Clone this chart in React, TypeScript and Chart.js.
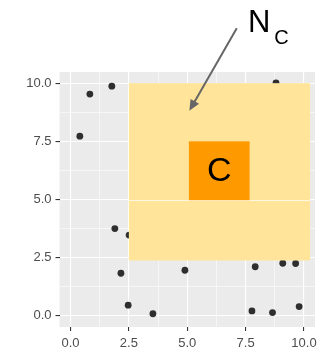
import React, { useEffect, useRef } from "react";
import { Chart, registerables } from "chart.js";

Chart.register(...registerables);

// Scatter points
const pointX = [0.40, 0.83, 1.77, 1.90, 2.51, 2.16, 2.47, 3.53, 4.90, 7.91, 9.09, 9.64, 7.77, 8.65, 9.79, 8.80];
const pointY = [7.72, 9.53, 9.87, 3.75, 3.47, 1.83, 0.46, 0.09, 1.96, 2.11, 2.26, 2.25, 0.21, 0.14, 0.40, 10.01];

// Axis ticks
const majorTicks = [0, 2.5, 5, 7.5, 10];
const minorTicks = [1.25, 3.75, 6.25, 8.75];
const xRange = [-0.47, 10.47];
const yRange = [-0.48, 10.48];

// Annotations (data coordinates)
const outerBoxX = [2.5, 10.26];
const outerBoxY = [2.38, 10.0];
const innerBoxX = [5.07, 7.67];
const innerBoxY = [4.97, 7.5];
const innerLabel = "C";
const arrowFrom = [7.12, 12.36];
const arrowTo = [5.09, 8.81];
const calloutMain = "N";
const calloutSub = "C";
const calloutPos = [7.6, 12.22];

const allTicks = [...majorTicks, ...minorTicks].sort((a, b) => a - b);
const isMajor = (v: number) => majorTicks.some((m) => Math.abs(m - v) < 1e-6);

const bgPlugin = {
  id: "panelBg",
  beforeDraw(chart: any) {
    const { ctx, chartArea } = chart;
    ctx.save();
    ctx.fillStyle = "#EBEBEB";
    ctx.fillRect(chartArea.left, chartArea.top, chartArea.right - chartArea.left, chartArea.bottom - chartArea.top);
    ctx.restore();
  },
};

const annotPlugin = {
  id: "annot",
  afterDatasetsDraw(chart: any) {
    const { ctx } = chart;
    const xs = chart.scales.x;
    const ys = chart.scales.y;
    const X = (v: number) => xs.getPixelForValue(v);
    const Y = (v: number) => ys.getPixelForValue(v);
    ctx.save();
    // outer yellow box
    ctx.fillStyle = "#FFE499";
    ctx.fillRect(X(outerBoxX[0]), Y(outerBoxY[1]), X(outerBoxX[1]) - X(outerBoxX[0]), Y(outerBoxY[0]) - Y(outerBoxY[1]));
    // faint grid line at y=5 through the box
    ctx.strokeStyle = "rgba(255,255,255,0.7)";
    ctx.lineWidth = 1;
    const y5 = Math.round(Y(5)) + 0.5;
    ctx.beginPath();
    ctx.moveTo(X(outerBoxX[0]), y5);
    ctx.lineTo(X(outerBoxX[1]), y5);
    ctx.stroke();
    // inner orange box
    ctx.fillStyle = "#FF9900";
    ctx.fillRect(X(innerBoxX[0]), Y(innerBoxY[1]), X(innerBoxX[1]) - X(innerBoxX[0]), Y(innerBoxY[0]) - Y(innerBoxY[1]));
    ctx.fillStyle = "#000";
    ctx.font = "34px 'Liberation Sans', Arial, sans-serif";
    ctx.textAlign = "center";
    ctx.textBaseline = "middle";
    ctx.fillText(innerLabel, (X(innerBoxX[0]) + X(innerBoxX[1])) / 2, (Y(innerBoxY[0]) + Y(innerBoxY[1])) / 2 + 1);
    // arrow
    const x1 = X(arrowFrom[0]), y1 = Y(arrowFrom[1]);
    const x2 = X(arrowTo[0]), y2 = Y(arrowTo[1]);
    const ang = Math.atan2(y2 - y1, x2 - x1);
    const headLen = 12;
    const headW = 0.42;
    ctx.strokeStyle = "#666666";
    ctx.fillStyle = "#666666";
    ctx.lineWidth = 2;
    ctx.beginPath();
    ctx.moveTo(x1, y1);
    ctx.lineTo(x2 - Math.cos(ang) * headLen * 0.8, y2 - Math.sin(ang) * headLen * 0.8);
    ctx.stroke();
    ctx.beginPath();
    ctx.moveTo(x2, y2);
    ctx.lineTo(x2 - headLen * Math.cos(ang - headW), y2 - headLen * Math.sin(ang - headW));
    ctx.lineTo(x2 - headLen * Math.cos(ang + headW), y2 - headLen * Math.sin(ang + headW));
    ctx.closePath();
    ctx.fill();
    // callout label N_C
    ctx.fillStyle = "#000";
    ctx.textAlign = "left";
    ctx.textBaseline = "alphabetic";
    ctx.font = "31px 'Liberation Sans', Arial, sans-serif";
    const lx = X(calloutPos[0]);
    const ly = Y(calloutPos[1]);
    ctx.fillText(calloutMain, lx, ly);
    const w = ctx.measureText(calloutMain).width;
    ctx.font = "20px 'Liberation Sans', Arial, sans-serif";
    ctx.fillText(calloutSub, lx + w + 4, ly + 12);
    ctx.restore();
  },
};

function makeScale(range: number[], axis: "x" | "y") {
  return {
    type: "linear" as const,
    min: range[0],
    max: range[1],
    afterBuildTicks(scale: any) {
      scale.ticks = allTicks.map((v) => ({ value: v }));
    },
    afterFit(scale: any) {
      if (axis === "y") scale.width = 59.5;
      else scale.height = 28;
      scale.paddingLeft = 0;
      scale.paddingRight = 0;
      scale.paddingTop = 0;
      scale.paddingBottom = 0;
    },
    border: { display: false },
    grid: {
      color: "#FFFFFF",
      lineWidth: (c: any) => (c.tick && isMajor(c.tick.value) ? 1.1 : 0.55),
      tickColor: (c: any) => (c.tick && isMajor(c.tick.value) ? "#333333" : "rgba(0,0,0,0)"),
      tickWidth: 1.1,
      tickLength: 4,
      drawTicks: true,
      drawOnChartArea: true,
    },
    ticks: {
      autoSkip: false,
      maxRotation: 0,
      padding: axis === "y" ? 4 : 5,
      color: "#4D4D4D",
      font: { family: "'Liberation Sans', Arial, sans-serif", size: 13 },
      callback: (v: any) => (isMajor(Number(v)) ? Number(v).toFixed(1) : ""),
    },
  };
}

export default function App() {
  const ref = useRef<HTMLCanvasElement | null>(null);
  useEffect(() => {
    if (!ref.current) return;
    const chart = new Chart(ref.current, {
      type: "scatter",
      data: {
        datasets: [
          {
            data: pointX.map((x, i) => ({ x, y: pointY[i] })),
            backgroundColor: "#2E2E2E",
            borderColor: "#2E2E2E",
            borderWidth: 0,
            pointRadius: 3.4,
          },
        ],
      },
      options: {
        animation: false,
        responsive: false,
        devicePixelRatio: 1,
        layout: { padding: { top: 72, right: 5, left: 0, bottom: 0 } },
        plugins: { legend: { display: false }, tooltip: { enabled: false } },
        scales: {
          x: makeScale(xRange, "x"),
          y: makeScale(yRange, "y"),
        },
      },
      plugins: [bgPlugin, annotPlugin],
    });
    return () => chart.destroy();
  }, []);
  return (
    <div style={{ position: "absolute", left: 0, top: 0, width: 320, height: 355, background: "#fff" }}>
      <canvas ref={ref} width={320} height={355} style={{ width: 320, height: 355, display: "block" }} />
    </div>
  );
}
